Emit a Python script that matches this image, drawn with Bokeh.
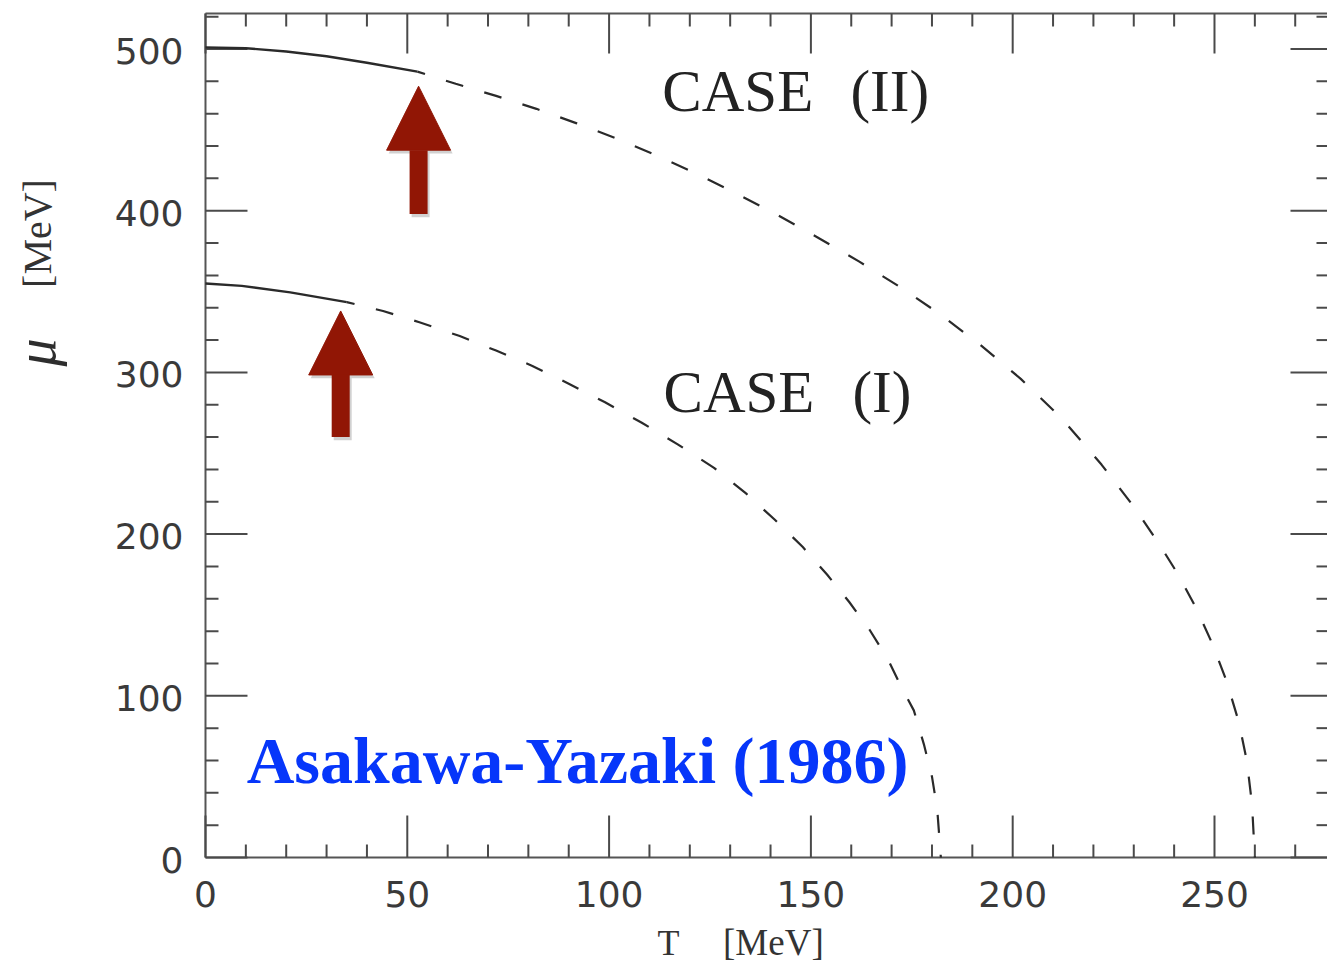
import math

from bokeh.plotting import figure
from bokeh.models import Range1d, Label, Arrow, NormalHead
from bokeh.core.properties import value
from bokeh.embed import file_html
from bokeh.resources import INLINE

# Critical line mu(T) for the two parameter sets (MeV)
case1_T = [0, 9, 21, 35, 44, 53, 63, 72, 81, 90, 99, 108, 117, 126, 134, 141,
           148, 154, 159.5, 164.5, 169, 172.5, 175.5, 178, 180, 181.3, 182.2]
case1_mu = [355, 353.5, 349.5, 343.5, 338, 331, 322.5, 313.5, 304, 293,
            281.5, 269, 255.5, 241, 225, 209, 192, 175, 158, 141, 123, 105,
            91, 70, 50, 30, 0]
case1_solid_end = 35  # first-order part ends here, dashed beyond

case2_T = [0, 10, 20, 30, 40, 52.5, 62, 72, 82, 92, 102, 112, 122, 132, 142,
           152, 162, 172, 182, 192, 202, 212, 222, 230, 236, 241, 245.5,
           249.5, 253, 256, 258, 259.3, 260]
case2_mu = [501, 500.5, 498.5, 495.5, 491.5, 486, 478.5, 471, 463, 454,
            444.5, 434, 422.5, 410, 397, 383, 368.5, 353, 336, 317, 296, 272,
            243, 217, 195, 175, 154, 132, 109, 84, 60, 33, 0]
case2_solid_end = 52.5

# Arrows marking the end points of the first-order lines
arrow_T = [33.5, 52.8]
arrow_tip_mu = [338, 477]
arrow_tail_mu = [260, 398]

# Axes
T_MAX = 278
MU_MAX = 522
x_ticks = [0, 50, 100, 150, 200, 250]
x_tick_labels = ["0", "50", "100", "150", "200", "250"]
x_minor_ticks = [t for t in range(0, T_MAX + 1, 10) if t % 50]
y_ticks = [0, 100, 200, 300, 400, 500]
y_tick_labels = ["0", "100", "200", "300", "400", "500"]
y_minor_ticks = [m for m in range(0, MU_MAX + 1, 20) if m % 100]

LINE = "#2a2a2a"
AXIS = "#555555"
TICK = "#4a4a4a"
RED = "#911605"
BLUE = "#0636fa"
SERIF = "Liberation Serif"

# The plotting area spans the whole canvas; the frame and its ticks are
# drawn as glyphs so that the axis titles can sit in the margins.
p = figure(width=1327, height=969, output_backend="svg", toolbar_location=None,
           x_range=Range1d(-50.79, 278.0), y_range=Range1d(-69.26, 530.0),
           x_axis_location=None, y_axis_location=None,
           min_border=0, min_border_left=0, min_border_right=0,
           min_border_top=0, min_border_bottom=0)
p.outline_line_color = None
p.grid.visible = False
p.background_fill_color = "white"
p.border_fill_color = "white"

# frame lines
p.line([0, 0], [0, MU_MAX], line_color=AXIS, line_width=2)
p.line([0, T_MAX], [0, 0], line_color=AXIS, line_width=2)
p.line([0, T_MAX], [MU_MAX, MU_MAX], line_color=AXIS, line_width=2)


def ticks(xs, ys, length, angle):
    p.ray(x=xs, y=ys, length=length, angle=angle, length_units="screen",
          line_color=TICK, line_width=2)


# bottom / top ticks
ticks(x_ticks, [0] * len(x_ticks), 42, math.pi / 2)
ticks(x_minor_ticks, [0] * len(x_minor_ticks), 13, math.pi / 2)
ticks(x_ticks, [MU_MAX] * len(x_ticks), 40, -math.pi / 2)
ticks(x_minor_ticks, [MU_MAX] * len(x_minor_ticks), 13, -math.pi / 2)
# left / right ticks
ticks([0] * len(y_ticks), y_ticks, 42, 0)
ticks([0] * len(y_minor_ticks), y_minor_ticks, 13, 0)
ticks([T_MAX] * len(y_ticks), y_ticks, 37, math.pi)
ticks([T_MAX] * len(y_minor_ticks), y_minor_ticks, 11, math.pi)

# tick labels
p.text(x=x_ticks, y=[0] * len(x_ticks), text=x_tick_labels,
       text_font=value("DejaVu Sans"), text_font_size="36px",
       text_color="#3a3a3a", text_align="center", text_baseline="middle",
       y_offset=36)
p.text(x=[0] * len(y_ticks), y=y_ticks, text=y_tick_labels,
       text_font=value("DejaVu Sans"), text_font_size="36px",
       text_color="#3a3a3a", text_align="right", text_baseline="middle",
       x_offset=-22, y_offset=2)


def draw_curve(T, mu, t_end):
    i = T.index(t_end)
    p.line(T[:i + 1], mu[:i + 1], line_color=LINE, line_width=2.4)
    p.line(T[i:], mu[i:], line_color=LINE, line_width=2.2,
           line_dash="18 22", line_dash_offset=10)


draw_curve(case1_T, case1_mu, case1_solid_end)
draw_curve(case2_T, case2_mu, case2_solid_end)

# Red arrows with a soft drop shadow
for t, tip, tail in zip(arrow_T, arrow_tip_mu, arrow_tail_mu):
    p.add_layout(Arrow(end=NormalHead(size=64, fill_color="black", fill_alpha=0.18,
                                      line_color=None),
                       x_start=t + 0.5, y_start=tail - 2, x_end=t + 0.5, y_end=tip - 2,
                       line_color="black", line_alpha=0.18, line_width=18))
    p.add_layout(Arrow(end=NormalHead(size=64, fill_color=RED, line_color=RED,
                                      line_width=1),
                       x_start=t, y_start=tail, x_end=t, y_end=tip,
                       line_color=RED, line_width=18))


def add_text(text, x, y, size, color="#222222", style="normal", font=SERIF,
             angle=0.0, align="left", baseline="alphabetic"):
    p.add_layout(Label(x=x, y=y, text=text, text_font=font,
                       text_font_style=style, text_font_size=size,
                       text_color=color, angle=angle, text_align=align,
                       text_baseline=baseline))


# Curve labels
add_text("CASE", 113.2, 474.3, "59px")
add_text("(II)", 159.8, 474.3, "59px")
add_text("CASE", 113.5, 287.7, "59px")
add_text("(I)", 160.3, 287.7, "59px")

add_text("Asakawa-Yazaki (1986)", 10.2, 60.2, "66px", color=BLUE, style="bold")

# Axis titles
add_text("T", 114.7, -52.6, "36px", color="#333333", align="center")
add_text("[MeV]", 140.7, -52.6, "37px", color="#333333", align="center")
add_text("μ", -41.9, 312.3, "56px", color="#2e2e2e", style="italic",
         angle=math.pi / 2, align="center", baseline="middle")
add_text("[MeV]", -41.6, 385.9, "40px", color="#333333", angle=math.pi / 2,
         align="center", baseline="middle")

open("out.html", "w").write(file_html(p, INLINE))
